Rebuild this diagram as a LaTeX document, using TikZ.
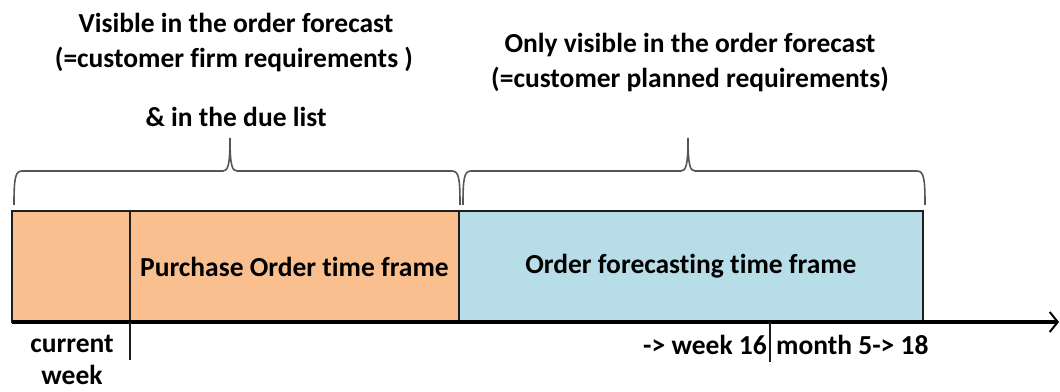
\documentclass[tikz,border=0pt]{standalone}
\usepackage{fontspec}
\setmainfont{Carlito}[Ligatures=NoCommon]
\usetikzlibrary{positioning}
\usetikzlibrary{arrows.meta}
\definecolor{poOrange}{RGB}{249,191,143}
\definecolor{fcBlue}{RGB}{183,221,232}
\definecolor{lineGray}{RGB}{30,30,30}
\definecolor{braceGray}{RGB}{85,85,85}

\begin{document}
\begin{tikzpicture}[x=1pt,y=1pt,
  font=\fontsize{27.5}{33}\selectfont\bfseries,
  bar/.style={draw=lineGray, line width=1.3pt, minimum height=111pt, outer sep=0pt, inner sep=0pt},
  brc/.style={line width=1.6pt, braceGray},
  txt/.style={anchor=base, inner sep=0pt},
]
\newcommand\Brace[3]{(#1,186) .. controls (#1,212) and (#1+1,220) .. (#1+8,220) -- (#2-7,220)
  .. controls (#2-2,220) and (#2,226) .. (#2,253) .. controls (#2,226) and (#2+2,220) .. (#2+7,220)
  -- (#3-8,220) .. controls (#3-1,220) and (#3,212) .. (#3,186)}
\useasboundingbox (0,0) rectangle (1060,391);

% time bars
\node [bar, fill=poOrange, minimum width=118pt, anchor=south west] (cur) at (12,69) {};
\node [bar, fill=poOrange, minimum width=329pt, right=0pt of cur] (po) {Purchase Order time frame};
\node [bar, fill=fcBlue, minimum width=464pt, right=0pt of po] (fc) {Order forecasting time frame};

% time axis
\coordinate (axisEnd) at (1059,69);
\draw [line width=3.5pt, -{Straight Barb[length=8pt,width=20pt,line width=2pt]}] (cur.south west) -- (axisEnd);
\coordinate (cwTick) at (130,31);
\draw [line width=1.3pt, lineGray] (cur.south east) -- (cwTick);
\coordinate (wkTop) at (770,69);
\coordinate (wkTick) at (770,29);
\draw [line width=1.3pt, lineGray] (wkTop) -- (wkTick);

\node [txt] (curTxt) at (72,39) {current};
\node [txt] (weekTxt) at (72,7) {week};
\node [anchor=base east, inner sep=0pt] (wk16) at (767,37) {-> week 16};
\node [anchor=base west, inner sep=0pt] (mon18) at (776,37) {month 5-> 18};

% braces
\draw [brc] \Brace{14}{230}{460};
\draw [brc] \Brace{463}{688}{925};

% top labels
\node [txt] (firm1) at (236,358) {Visible in the order forecast};
\node [txt] (firm2) at (234,323) {(=customer firm requirements )};
\node [txt] (due) at (236,264) {\& in the due list};
\node [txt] (plan1) at (690,338) {Only visible in the order forecast};
\node [txt] (plan2) at (690,303) {(=customer planned requirements)};
\end{tikzpicture}
\end{document}
